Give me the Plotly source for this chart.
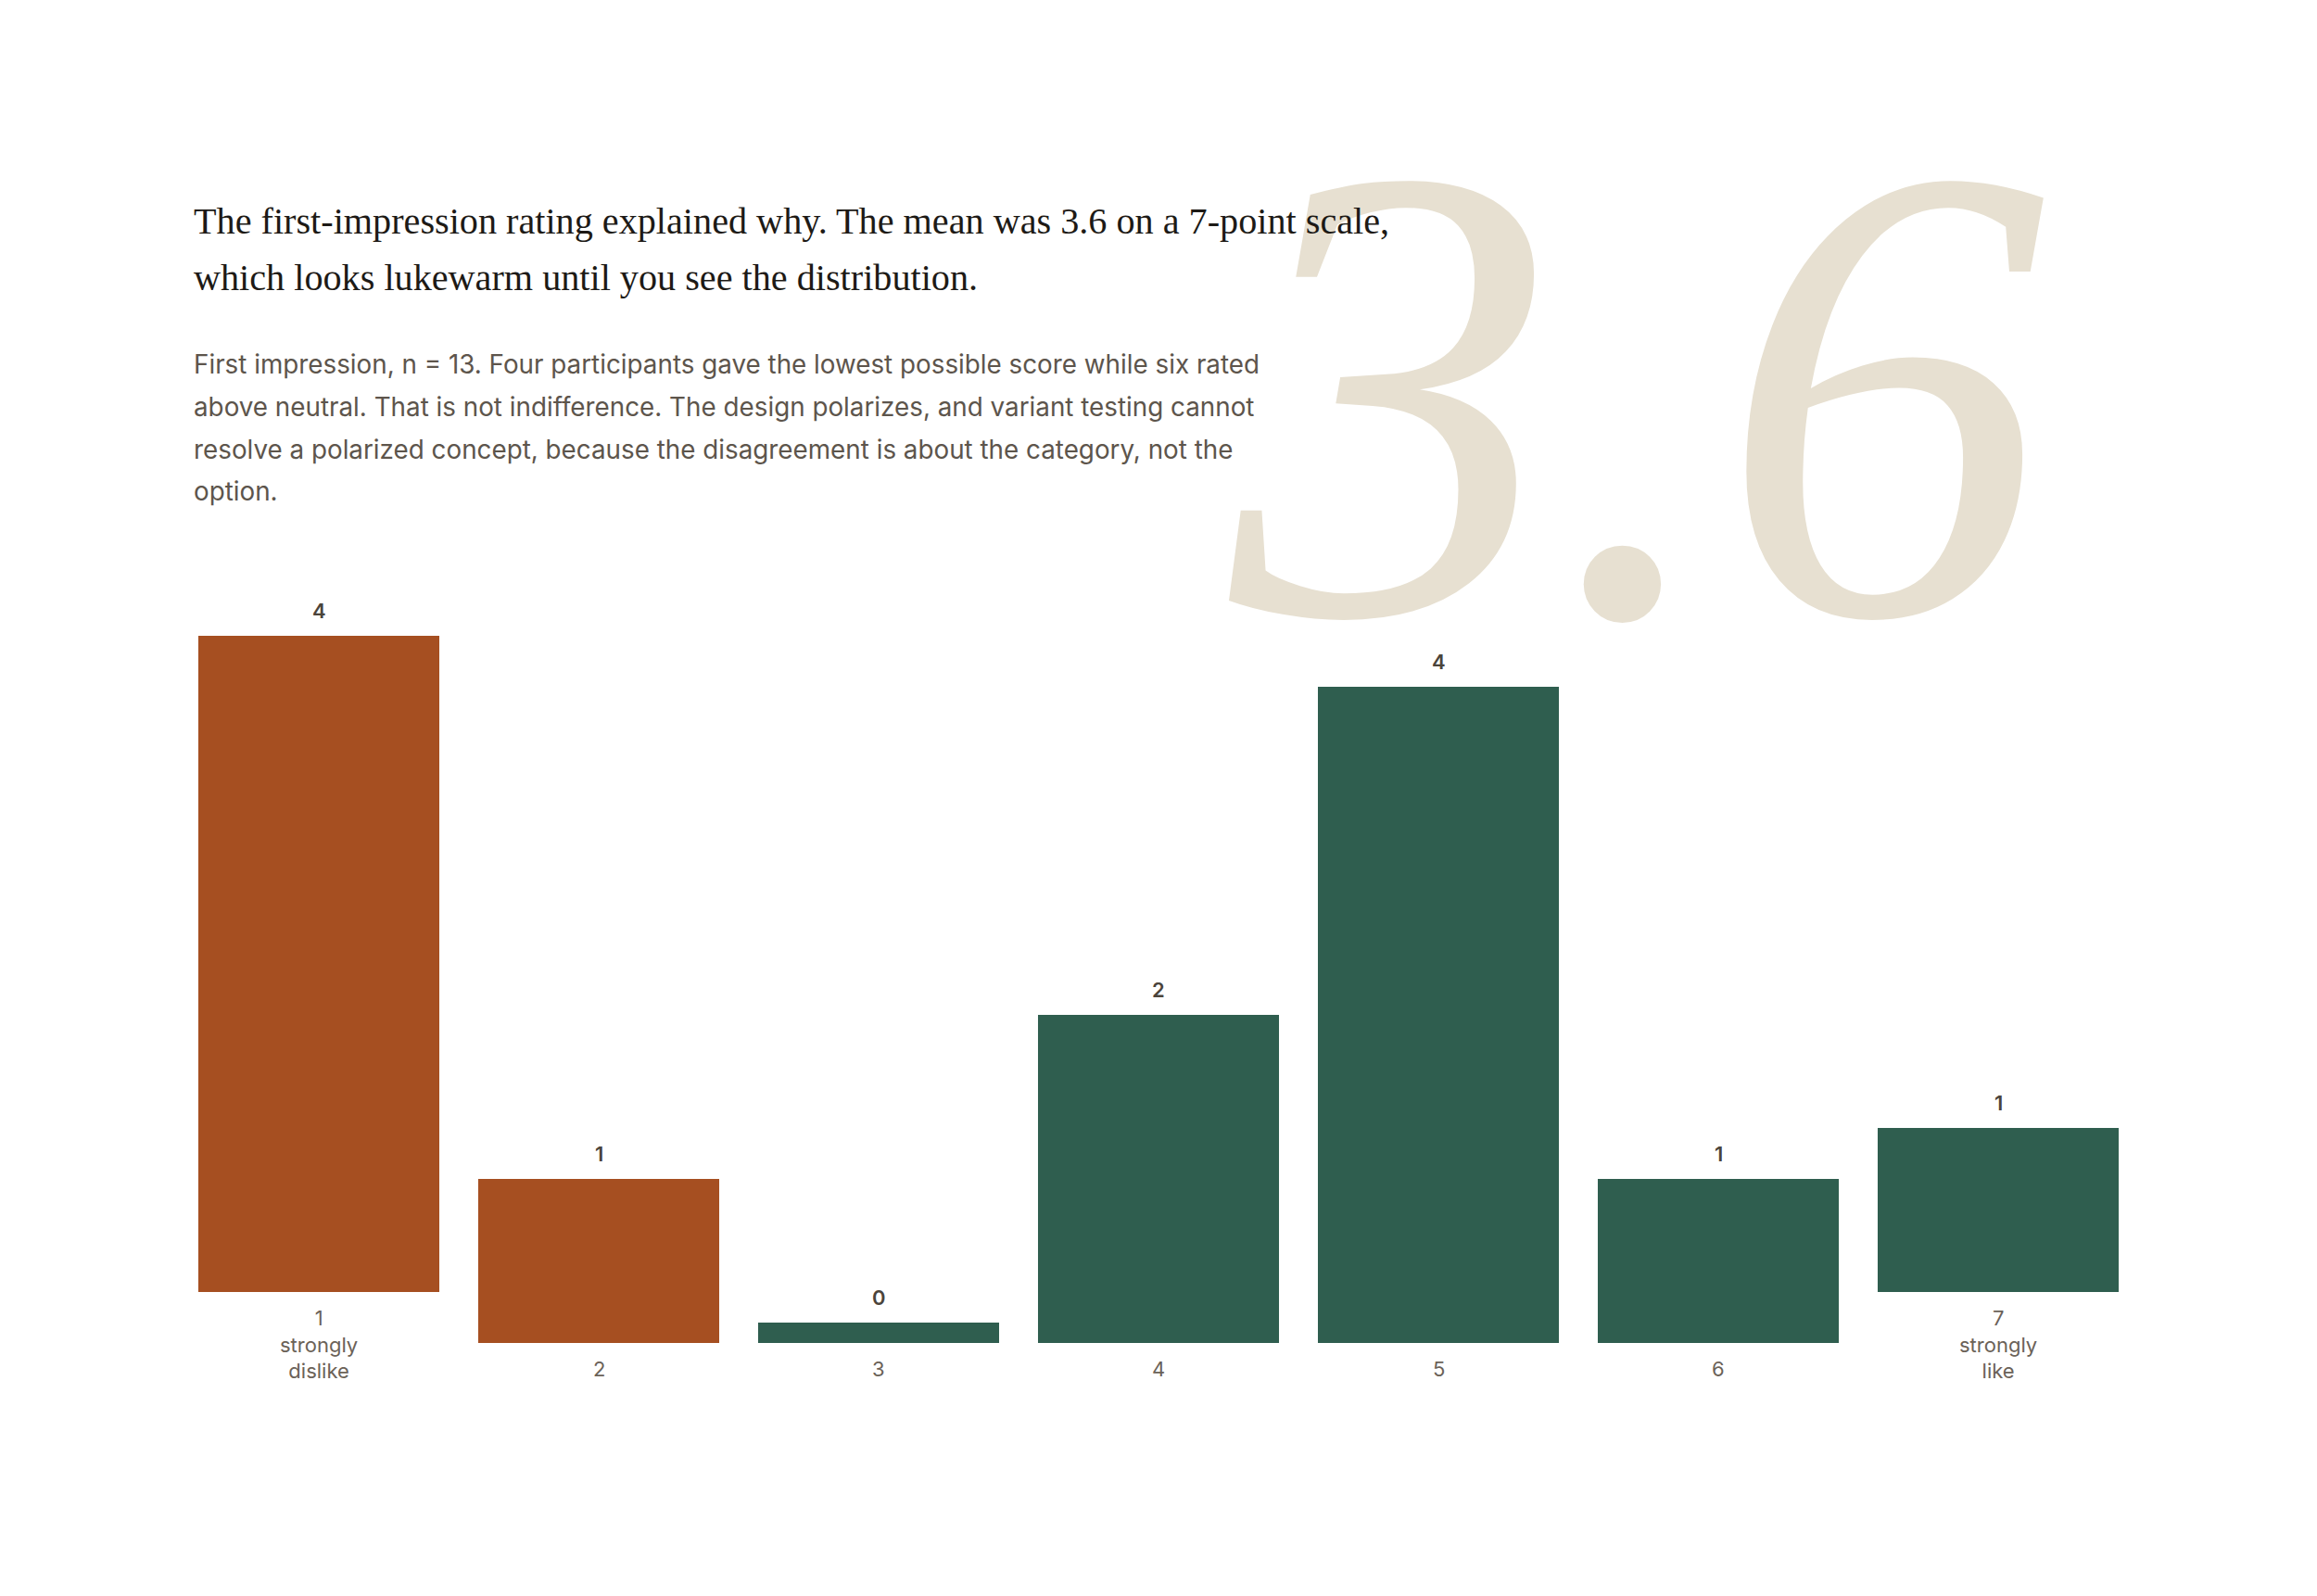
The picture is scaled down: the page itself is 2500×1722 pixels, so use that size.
import plotly.graph_objects as go

# ---------------- data ----------------
ratings = ["1", "2", "3", "4", "5", "6", "7"]
anchor_labels = ["strongly<br>dislike", "", "", "", "", "", "strongly<br>like"]
counts = [4, 1, 0, 2, 4, 1, 1]
bar_colors = ["#a64f21", "#a64f21", "#2f5e4f", "#2f5e4f", "#2f5e4f", "#2f5e4f", "#2f5e4f"]

mean_text = "3.6"
title_lines = [
    "The first-impression rating explained why. The mean was 3.6 on a 7-point scale,",
    "which looks lukewarm until you see the distribution.",
]
subtitle_lines = [
    "First impression, n = 13. Four participants gave the lowest possible score while six rated",
    "above neutral. That is not indifference. The design polarizes, and variant testing cannot",
    "resolve a polarized concept, because the disagreement is about the category, not the",
    "option.",
]

# ---------------- layout constants ----------------
W, H = 2500, 1722
OFF = 8  # page body margin
ML, MR = 193 - OFF, 193 + OFF
MB = 273 + OFF
UNIT_PX = 177.0
Y_MAX = 5.0
MT = H - MB - int(Y_MAX * UNIT_PX)
PLOT_W = W - ML - MR
PLOT_H = H - MT - MB

LABEL_LINE_PX = 27.5
MIN_BAR_PX = 22.0

TITLE_FONT = "Liberation Serif"
SANS = "Inter"


def px_x(px):
    return (px - OFF - ML) / PLOT_W


def px_y(py):
    return (H - MB - (py - OFF)) / PLOT_H


# label line count lifts bars so that every column is bottom aligned
label_texts = [r + ("<br>" + a if a else "") for r, a in zip(ratings, anchor_labels)]
n_lines = [t.count("<br>") + 1 for t in label_texts]
bases = [(n - 1) * LABEL_LINE_PX / UNIT_PX for n in n_lines]
heights = [max(c, MIN_BAR_PX / UNIT_PX) for c in counts]
idx = list(range(len(ratings)))

fig = go.Figure()
fig.add_trace(
    go.Bar(
        x=idx,
        y=heights,
        base=bases,
        marker=dict(color=bar_colors, line=dict(width=0)),
        hoverinfo="skip",
        showlegend=False,
    )
)

annotations = []

# big background mean figure
annotations.append(
    dict(
        text=mean_text,
        xref="paper", yref="paper",
        x=px_x(1762), y=px_y(424),
        xanchor="center", yanchor="middle",
        showarrow=False,
        font=dict(family=TITLE_FONT, size=705, color="#e7e0d1", style="italic"),
    )
)

# title lines
title_y = [239, 299]
for line, yy in zip(title_lines, title_y):
    annotations.append(
        dict(
            text=line, xref="paper", yref="paper",
            x=px_x(207), y=px_y(yy), xanchor="left", yanchor="middle",
            showarrow=False,
            font=dict(family=TITLE_FONT, size=40.2, color="#1d1a16"),
        )
    )

# subtitle lines
sub_y = [393, 439, 485, 530]
for line, yy in zip(subtitle_lines, sub_y):
    annotations.append(
        dict(
            text=line, xref="paper", yref="paper",
            x=px_x(207), y=px_y(yy), xanchor="left", yanchor="middle",
            showarrow=False,
            font=dict(family=SANS, size=27.8, color="#5d554c"),
        )
    )

# value labels and category labels
for i, c, b, h, t in zip(idx, counts, bases, heights, label_texts):
    annotations.append(
        dict(
            text=str(c), x=i, y=b + h, xref="x", yref="y",
            xanchor="center", yanchor="middle", yshift=27,
            showarrow=False,
            font=dict(family=SANS, size=22, color="#4b443b", weight=600),
        )
    )
    annotations.append(
        dict(
            text=t, x=i, y=b, xref="x", yref="y",
            xanchor="center", yanchor="top", yshift=-13,
            showarrow=False,
            font=dict(family=SANS, size=22, color="#6b6258"),
        )
    )

fig.update_layout(
    width=W, height=H,
    margin=dict(l=ML, r=MR, t=MT, b=MB, pad=0),
    paper_bgcolor="white", plot_bgcolor="white",
    bargap=0.139,
    xaxis=dict(visible=False, range=[-0.5, 6.5], fixedrange=True),
    yaxis=dict(visible=False, range=[0, Y_MAX], fixedrange=True),
    annotations=annotations,
    showlegend=False,
)

fig.write_html("out.html")
